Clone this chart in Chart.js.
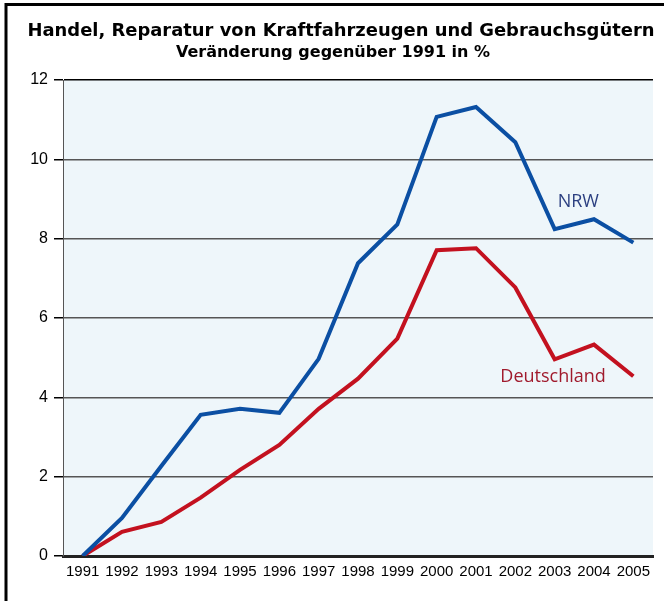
<!DOCTYPE html>
<html>
<head>
<meta charset="utf-8">
<script src="https://cdn.jsdelivr.net/npm/chart.js@4.4.0/dist/chart.umd.min.js"></script>
<style>
    html, body { margin: 0; padding: 0; background: #ffffff; }
    #wrap { width: 664px; height: 601px; position: relative; }
</style>
</head>
<body>
<div id="wrap"><canvas id="chart" width="664" height="601"></canvas></div>
<script>
var years = ['1991', '1992', '1993', '1994', '1995', '1996', '1997', '1998',
    '1999', '2000', '2001', '2002', '2003', '2004', '2005'];
var nrwValues = [0, 0.96, 2.27, 3.56, 3.71, 3.61, 4.97, 7.38, 8.36, 11.07, 11.32, 10.43, 8.24, 8.49, 7.9];
var deValues = [0, 0.61, 0.86, 1.47, 2.17, 2.8, 3.71, 4.47, 5.48, 7.71, 7.76, 6.77, 4.96, 5.33, 4.53];
var yTicks = [0, 2, 4, 6, 8, 10, 12];
var titleText = 'Handel, Reparatur von Kraftfahrzeugen und Gebrauchsgütern';
var subtitleText = 'Veränderung gegenüber 1991 in %';

var TITLE_FONT = '"DejaVu Sans", Verdana, sans-serif';
var LABEL_FONT = '"Open Sans", "Liberation Sans", Arial, sans-serif';
var TICK_FONT = '"Liberation Sans", Arial, sans-serif';

// light blue plot background + black frame + titles + series names
var decorPlugin = {
    id: 'decor',
    beforeDraw: function(chart) {
        var ctx = chart.ctx;
        var a = chart.chartArea;
        ctx.save();
        ctx.fillStyle = '#eef6fa';
        ctx.fillRect(a.left, a.top, a.right - a.left, a.bottom - a.top);
        ctx.restore();
    },
    afterDraw: function(chart) {
        var ctx = chart.ctx;
        var xs = chart.scales.x;
        var ys = chart.scales.y;
        ctx.save();
        // frame
        ctx.strokeStyle = '#000000';
        ctx.lineWidth = 3;
        ctx.beginPath();
        ctx.moveTo(6, 601);
        ctx.lineTo(6, 4.5);
        ctx.lineTo(664, 4.5);
        ctx.stroke();
        // titles
        ctx.fillStyle = '#000000';
        ctx.textAlign = 'center';
        ctx.textBaseline = 'alphabetic';
        ctx.font = 'bold 18px ' + TITLE_FONT;
        ctx.fillText(titleText, 341, 36, 627);
        ctx.font = 'bold 16px ' + TITLE_FONT;
        ctx.fillText(subtitleText, 333, 57, 317);
        // series names
        ctx.textBaseline = 'middle';
        ctx.font = '18px ' + LABEL_FONT;
        ctx.fillStyle = '#2b3f80';
        ctx.fillText('NRW', xs.getPixelForValue(12.6), ys.getPixelForValue(8.92));
        ctx.fillStyle = '#a01a2c';
        ctx.fillText('Deutschland', xs.getPixelForValue(11.96), ys.getPixelForValue(4.51));
        ctx.restore();
    }
};

var ctx = document.getElementById('chart');
new Chart(ctx, {
    type: 'line',
    data: {
        labels: years,
        datasets: [{
            label: 'NRW',
            data: nrwValues,
            borderColor: '#0b4fa3',
            borderWidth: 4,
            borderJoinStyle: 'miter',
            pointRadius: 0,
            tension: 0,
            fill: false
        }, {
            label: 'Deutschland',
            data: deValues,
            borderColor: '#c3111f',
            borderWidth: 4,
            borderJoinStyle: 'miter',
            pointRadius: 0,
            tension: 0,
            fill: false
        }]
    },
    options: {
        responsive: false,
        animation: false,
        events: [],
        layout: {
            padding: {top: 80, right: 11, bottom: 0, left: 0}
        },
        plugins: {
            legend: {display: false},
            title: {display: false},
            tooltip: {enabled: false}
        },
        scales: {
            x: {
                offset: true,
                grid: {display: false, drawTicks: false},
                border: {display: true, color: '#222222', width: 3},
                ticks: {
                    autoSkip: false,
                    maxRotation: 0,
                    minRotation: 0,
                    padding: 7,
                    color: '#000000',
                    font: {family: TICK_FONT, size: 15}
                },
                afterFit: function(scale) { scale.height = 45; }
            },
            y: {
                min: 0,
                max: 12,
                afterBuildTicks: function(scale) {
                    scale.ticks = yTicks.map(function(v) { return {value: v}; });
                },
                grid: {
                    color: function(c) { return c.tick && c.tick.value === 12 ? '#000000' : '#555555'; },
                    lineWidth: 1.5,
                    tickLength: 9,
                    tickColor: '#000000',
                    tickWidth: 1.5
                },
                border: {display: true, color: '#555555', width: 1},
                ticks: {
                    padding: 6,
                    color: '#000000',
                    font: {family: TICK_FONT, size: 16}
                },
                afterFit: function(scale) { scale.width = 63; }
            }
        }
    },
    plugins: [decorPlugin]
});
</script>
</body>
</html>
